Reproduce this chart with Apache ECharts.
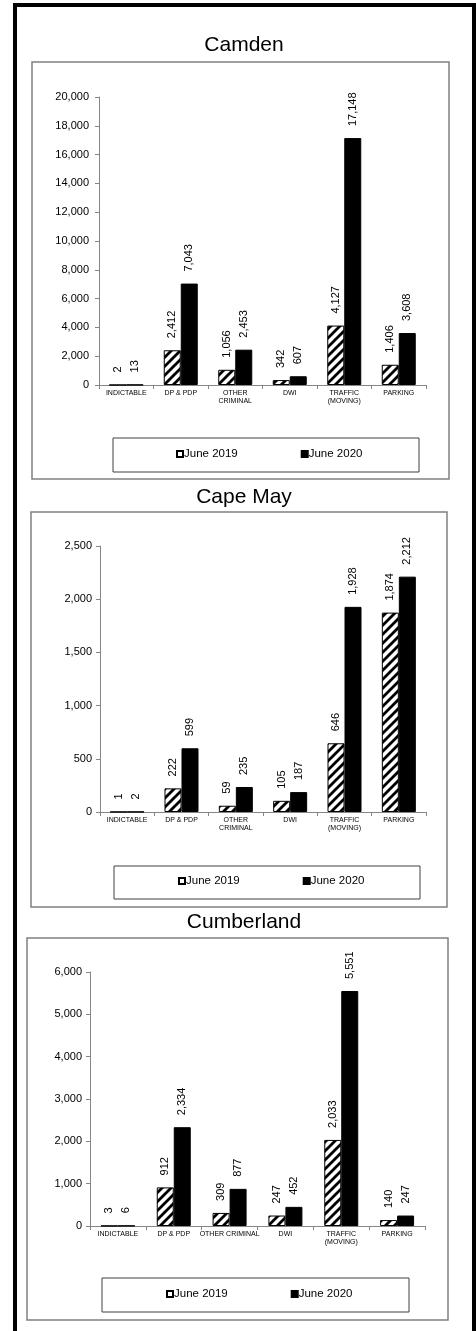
<!DOCTYPE html>
<html>
<head>
<meta charset="utf-8">
<script src="https://cdn.jsdelivr.net/npm/echarts@6/dist/echarts.min.js"></script>
<style>
  html, body { margin: 0; padding: 0; background: #fff; }
  #main { width: 476px; height: 1331px; }
</style>
</head>
<body>
<div id="main"></div>
<script>
// data
var counties = ['Camden', 'Cape May', 'Cumberland'];
var seriesNames = ['June 2019', 'June 2020'];
var categories = ['INDICTABLE', 'DP & PDP', 'OTHER\nCRIMINAL', 'DWI', 'TRAFFIC\n(MOVING)', 'PARKING'];
var categoriesCumberland = ['INDICTABLE', 'DP & PDP', 'OTHER CRIMINAL', 'DWI', 'TRAFFIC\n(MOVING)', 'PARKING'];

var camden2019 = [2, 2412, 1056, 342, 4127, 1406];
var camden2020 = [13, 7043, 2453, 607, 17148, 3608];
var capeMay2019 = [1, 222, 59, 105, 646, 1874];
var capeMay2020 = [2, 599, 235, 187, 1928, 2212];
var cumberland2019 = [3, 912, 309, 247, 2033, 140];
var cumberland2020 = [6, 2334, 877, 452, 5551, 247];

var yMax = [20000, 2500, 6000];
var yStep = [2000, 500, 1000];

var font = 'Arial, "Liberation Sans", sans-serif';
var axisGray = '#868686';

// layout of each panel (pixels)
var panels = [
  { title: 45, grid: [99, 97, 327, 288], box: [32, 62, 417, 417], legendBox: [113, 438, 306, 34], legend: [176, 455], labelMargin: 10,
    cats: categories, d19: camden2019, d20: camden2020 },
  { title: 497, grid: [100, 546, 326, 266], box: [31, 512, 416, 395], legendBox: [114, 866, 306, 33], legend: [178, 882], labelMargin: 8,
    cats: categories, d19: capeMay2019, d20: capeMay2020 },
  { title: 922, grid: [90, 972, 335, 254], box: [27, 938, 421, 382], legendBox: [102, 1278, 307, 34], legend: [166, 1295], labelMargin: 8,
    cats: categoriesCumberland, d19: cumberland2019, d20: cumberland2020 }
];

// diagonal hatch for 2019 bars
function hatch() {
  var c = document.createElement('canvas');
  c.width = 9; c.height = 9;
  var ctx = c.getContext('2d');
  ctx.fillStyle = '#fff';
  ctx.fillRect(0, 0, 9, 9);
  ctx.strokeStyle = '#000';
  ctx.lineWidth = 2.8;
  ctx.beginPath();
  ctx.moveTo(-2, 2); ctx.lineTo(2, -2);
  ctx.moveTo(0, 9); ctx.lineTo(9, 0);
  ctx.moveTo(7, 11); ctx.lineTo(11, 7);
  ctx.stroke();
  return c;
}
var hatchPattern = { image: hatch(), repeat: 'repeat' };

function fmt(v) { return Number(v).toLocaleString('en-US'); }

var titles = [], grids = [], xAxes = [], yAxes = [], series = [], legends = [], graphics = [];

// outer black frame
graphics.push(
  { type: 'rect', shape: { x: 13, y: 3, width: 4, height: 1330 }, style: { fill: '#000' } },
  { type: 'rect', shape: { x: 13, y: 3, width: 463, height: 4 }, style: { fill: '#000' } },
  { type: 'rect', shape: { x: 472, y: 3, width: 4, height: 1330 }, style: { fill: '#000' } }
);

panels.forEach(function (p, i) {
  titles.push({
    text: counties[i], left: 244, top: p.title - 10, textAlign: 'center', padding: 0,
    textStyle: { fontFamily: font, fontSize: 21, fontWeight: 'normal', color: '#000' }
  });
  grids.push({ left: p.grid[0], top: p.grid[1], width: p.grid[2], height: p.grid[3] });
  xAxes.push({
    type: 'category', gridIndex: i, data: p.cats,
    axisLine: { lineStyle: { color: axisGray, width: 1 } },
    axisTick: { show: true, length: 4, lineStyle: { color: axisGray } },
    axisLabel: { interval: 0, margin: 4, fontFamily: font, fontSize: 7, lineHeight: 8, color: '#000' }
  });
  yAxes.push({
    type: 'value', gridIndex: i, min: 0, max: yMax[i], interval: yStep[i],
    splitLine: { show: false },
    axisLine: { show: true, lineStyle: { color: axisGray, width: 1 } },
    axisTick: { show: true, length: 4, lineStyle: { color: axisGray } },
    axisLabel: { margin: p.labelMargin, fontFamily: font, fontSize: 11, color: '#000', formatter: fmt }
  });
  var label = {
    show: true, position: 'top', rotate: 90, align: 'left', verticalAlign: 'middle', distance: 12,
    fontFamily: font, fontSize: 11, color: '#000',
    formatter: function (prm) { return fmt(prm.value); }
  };
  series.push({
    name: seriesNames[0], type: 'bar', xAxisIndex: i, yAxisIndex: i, data: p.d19,
    barWidth: 17, barGap: '0%',
    itemStyle: { color: hatchPattern, borderColor: '#000', borderWidth: 1 },
    label: label
  });
  series.push({
    name: seriesNames[1], type: 'bar', xAxisIndex: i, yAxisIndex: i, data: p.d20,
    barWidth: 17, barGap: '0%',
    itemStyle: { color: '#000', borderColor: '#000', borderWidth: 1 },
    label: label
  });
  legends.push({
    left: p.legend[0], top: p.legend[1] - 7, padding: 0, itemGap: 63,
    icon: 'rect', itemWidth: 6, itemHeight: 6, selectedMode: false,
    textStyle: { fontFamily: font, fontSize: 11.5, color: '#000', padding: [0, 0, 0, -4] },
    data: [
      { name: seriesNames[0], itemStyle: { color: '#fff', borderColor: '#000', borderWidth: 2 } },
      { name: seriesNames[1], itemStyle: { color: '#000' } }
    ]
  });
  graphics.push({
    type: 'rect', shape: { x: p.box[0], y: p.box[1], width: p.box[2], height: p.box[3] },
    style: { fill: null, stroke: '#808080', lineWidth: 1.5 }, z: -1
  });
  graphics.push({
    type: 'rect', shape: { x: p.legendBox[0], y: p.legendBox[1], width: p.legendBox[2], height: p.legendBox[3] },
    style: { fill: null, stroke: '#404040', lineWidth: 1 }, z: -1
  });
});

var myChart = echarts.init(document.getElementById('main'));
myChart.setOption({
  animation: false,
  backgroundColor: '#fff',
  title: titles,
  grid: grids,
  xAxis: xAxes,
  yAxis: yAxes,
  legend: legends,
  series: series,
  graphic: graphics
});
</script>
</body>
</html>
